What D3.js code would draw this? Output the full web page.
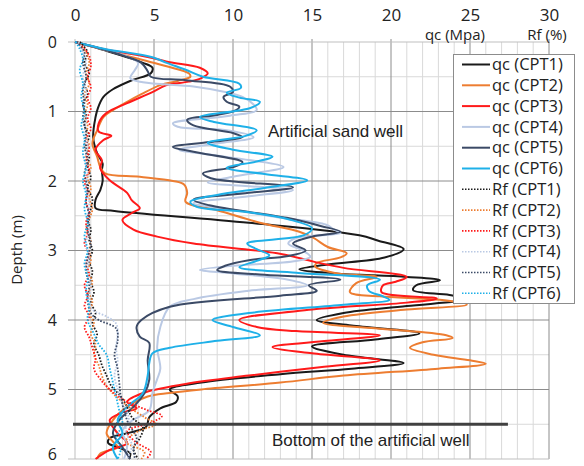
<!DOCTYPE html>
<html><head><meta charset="utf-8">
<script src="https://cdn.jsdelivr.net/npm/d3@7"></script>
<style>
html,body{margin:0;padding:0;background:#fff;}
svg text{font-family:"Open Sans",sans-serif;fill:#222;}
</style></head>
<body><svg id="c" width="584" height="466"></svg>
<script>
// ---- data: [depth (m), value] ----
const xTicks = [0,5,10,15,20,25,30];
const yTicks = [0,1,2,3,4,5,6];
const seriesNames = ["qc (CPT1)","qc (CPT2)","qc (CPT3)","qc (CPT4)","qc (CPT5)","qc (CPT6)","Rf (CPT1)","Rf (CPT2)","Rf (CPT3)","Rf (CPT4)","Rf (CPT5)","Rf (CPT6)"];
const seriesColors = ["#1a1a1a","#ed7d31","#ff1a1a","#bac9e4","#3b4a66","#1eb0e8","#1a1a1a","#ed7d31","#ff1a1a","#bac9e4","#3b4a66","#1eb0e8"];
const wellBottom = 5.5;
const wellLineEnd = 27.4;

const qc1 = [[0,0],[0.1,1.6],[0.2,3.0],[0.3,4.3],[0.37,4.9],[0.45,4.8],[0.55,3.6],[0.68,2.4],[0.79,1.8],[0.95,1.45],[1.08,1.3],[1.37,1.15],[1.6,1.4],[1.75,1.75],[1.84,1.7],[2.0,1.75],[2.13,1.6],[2.27,1.3],[2.39,1.3],[2.43,2.5],[2.6,11],[2.78,18],[2.86,19.2],[2.98,20.8],[3.1,19.6],[3.2,16],[3.27,14.2],[3.33,16.5],[3.38,21],[3.43,23.1],[3.5,21.6],[3.57,21.4],[3.64,23.7],[3.7,24.8],[3.8,21],[3.9,17],[4.0,15.3],[4.08,17.5],[4.19,21.8],[4.28,19],[4.38,15],[4.5,17],[4.62,20.8],[4.7,17.5],[4.78,13],[4.9,8],[5.0,6.0],[5.1,6.5],[5.18,6.4],[5.27,5.4],[5.4,4.7],[5.54,4.5],[5.63,3.3],[5.7,2.2],[5.77,2.1],[5.83,2.7],[5.92,3.5],[6.0,3.4]];
const qc2 = [[0,0],[0.1,1.7],[0.2,3.3],[0.26,4.3],[0.35,5.8],[0.45,7.2],[0.5,7.3],[0.56,6.5],[0.62,5.4],[0.75,4.2],[0.86,3.3],[0.98,2.4],[1.08,1.8],[1.27,1.4],[1.46,1.1],[1.65,1.4],[1.8,1.6],[1.89,1.9],[1.94,4.1],[2.0,6.2],[2.05,6.9],[2.17,7.1],[2.3,7.0],[2.42,9.0],[2.6,11.7],[2.73,14.2],[2.82,15.1],[2.95,16.0],[3.04,17.2],[3.1,16.8],[3.18,15.3],[3.23,15.2],[3.33,16.6],[3.38,19.1],[3.47,17.8],[3.6,17.4],[3.66,19.3],[3.71,23.1],[3.78,24.8],[3.85,21],[3.95,17],[4.04,15.7],[4.12,19],[4.22,23.5],[4.26,23.9],[4.32,22],[4.4,21.2],[4.5,22.7],[4.58,25],[4.63,26],[4.7,23],[4.8,17],[4.9,13],[5.0,8],[5.05,6],[5.1,4.6],[5.25,3.3],[5.44,2.4],[5.63,2.0],[5.75,2.4],[5.83,2.7],[5.92,1.6],[6.0,1.4]];
const qc3 = [[0,0],[0.1,1.8],[0.23,4.9],[0.29,6.0],[0.37,7.9],[0.45,8.4],[0.52,8.0],[0.57,7.2],[0.62,5.8],[0.72,4.9],[0.88,3.3],[1.02,2.0],[1.17,1.5],[1.29,1.5],[1.35,2.3],[1.41,1.8],[1.55,1.3],[1.7,1.7],[1.82,1.6],[1.99,2.2],[2.17,3.3],[2.28,3.6],[2.39,4.1],[2.46,3.6],[2.56,3.0],[2.7,3.7],[2.8,5.2],[2.9,7.5],[3.04,12.8],[3.16,15.1],[3.25,17],[3.38,21.0],[3.45,20.3],[3.5,19.5],[3.6,19.4],[3.69,22.9],[3.75,21],[3.85,15],[4.0,10.4],[4.1,11.5],[4.16,14],[4.22,19.3],[4.3,16],[4.39,12.5],[4.48,15],[4.58,19.3],[4.68,15.5],[4.8,11],[4.92,7],[5.05,4.3],[5.18,3.3],[5.27,3.9],[5.33,3.0],[5.44,2.2],[5.63,2.7],[5.77,3.3],[5.87,2.2],[6.0,1.3]];
const qc4 = [[0,0],[0.1,1.7],[0.2,3.2],[0.3,4.0],[0.4,3.8],[0.52,3.5],[0.58,4.3],[0.64,7.5],[0.72,9.5],[0.79,10.6],[0.9,11.3],[0.98,11.5],[1.06,9.8],[1.17,6.2],[1.22,6.5],[1.27,9.6],[1.37,11.3],[1.46,9],[1.55,6.6],[1.62,8.5],[1.8,13.2],[1.9,11],[1.94,10],[2.02,8.4],[2.13,13.8],[2.22,11],[2.32,7.5],[2.4,9.5],[2.52,12.8],[2.63,15.9],[2.7,16.4],[2.75,16.8],[2.82,14],[2.9,13.5],[3.0,14.4],[3.09,14.9],[3.15,14.0],[3.22,10],[3.28,7.9],[3.33,10],[3.42,13.5],[3.5,14.7],[3.58,11],[3.7,7.5],[3.81,6.0],[4.1,5.4],[4.39,5.2],[4.7,5.4],[4.85,5.2],[5.05,4.9],[5.3,4.7],[5.45,3.6],[5.6,3.0],[5.8,3.3],[6.0,3.1]];
const qc5 = [[0,0],[0.1,1.7],[0.2,3.1],[0.3,4.2],[0.42,4.6],[0.5,4.8],[0.55,7.0],[0.64,9.8],[0.72,10.0],[0.79,9.4],[0.86,9.6],[0.93,10.4],[0.98,10.2],[1.05,9],[1.12,7.1],[1.2,7.5],[1.31,10],[1.37,10.6],[1.44,8.5],[1.51,6.2],[1.58,7.5],[1.73,10.6],[1.8,10],[1.89,8.1],[1.96,8.6],[2.09,13.8],[2.17,11],[2.27,7.5],[2.35,8.5],[2.53,13.4],[2.65,15.6],[2.73,16.8],[2.8,15],[2.9,13.8],[3.0,14.6],[3.08,13.5],[3.14,11],[3.22,9.5],[3.28,9.0],[3.35,12],[3.42,16.8],[3.5,14.8],[3.58,15.3],[3.65,13],[3.81,6.0],[4.0,4.2],[4.1,3.9],[4.24,4.1],[4.33,4.7],[4.58,4.6],[4.86,4.7],[5.05,4.4],[5.25,3.7],[5.44,2.8],[5.63,2.4],[5.83,3.0],[6.0,3.5]];
const qc6 = [[0,0],[0.1,1.9],[0.22,4.9],[0.3,5.8],[0.4,7.0],[0.5,8.1],[0.6,10.4],[0.66,10.5],[0.73,9.6],[0.8,10.4],[0.86,11.7],[0.95,11.1],[1.08,7.9],[1.15,8.8],[1.27,11.5],[1.35,10.8],[1.45,8.4],[1.55,10],[1.65,12.5],[1.72,11.5],[1.81,9.6],[1.9,12],[1.99,14.7],[2.1,12],[2.2,9],[2.3,7.3],[2.37,7.7],[2.45,11],[2.55,13.5],[2.68,15],[2.78,14.5],[2.9,10.9],[2.98,11.5],[3.07,12.3],[3.15,11.5],[3.24,10.4],[3.32,14],[3.42,19.3],[3.5,18.5],[3.58,18.6],[3.66,19.5],[3.71,19.9],[3.78,17],[3.9,11],[4.0,8.7],[4.1,10],[4.22,11.7],[4.3,9],[4.4,6],[4.48,4.9],[4.62,4.7],[4.8,4.6],[5.05,4.3],[5.25,3.3],[5.44,2.7],[5.63,3.0],[5.83,2.4],[6.0,2.7]];

const rf1 = [[0,0.3],[0.15,0.8],[0.3,0.6],[0.45,0.9],[0.6,0.6],[0.75,0.8],[0.9,0.5],[1.05,0.7],[1.2,0.6],[1.35,0.9],[1.5,0.7],[1.65,0.9],[1.8,0.8],[1.95,1.0],[2.1,0.8],[2.25,1.1],[2.4,1.0],[2.55,0.8],[2.7,1.0],[2.85,0.9],[3.0,1.1],[3.15,0.9],[3.3,1.1],[3.45,1.0],[3.6,1.2],[3.75,1.0],[3.9,1.3],[4.05,1.1],[4.2,1.4],[4.35,1.2],[4.5,1.5],[4.65,1.7],[4.8,2.0],[4.95,2.3],[5.1,2.9],[5.25,3.3],[5.4,3.6],[5.55,4.3],[5.7,4.1],[5.85,3.7],[6.0,4.0]];
const rf2 = [[0,0.2],[0.15,0.7],[0.3,0.9],[0.45,0.7],[0.6,0.9],[0.75,0.6],[0.9,0.8],[1.05,0.6],[1.2,0.8],[1.35,0.7],[1.5,0.9],[1.65,0.7],[1.8,1.0],[1.95,0.8],[2.1,1.0],[2.25,0.9],[2.4,1.1],[2.55,0.9],[2.7,0.7],[2.85,1.0],[3.0,0.9],[3.15,1.0],[3.3,0.8],[3.45,1.1],[3.6,0.9],[3.75,1.1],[3.9,0.9],[4.05,1.2],[4.2,1.0],[4.35,1.3],[4.5,1.2],[4.65,1.5],[4.8,1.7],[4.95,2.0],[5.1,2.6],[5.25,3.4],[5.4,4.4],[5.5,5.1],[5.6,4.0],[5.75,3.2],[5.9,4.4],[6.0,4.2]];
const rf3 = [[0,0.1],[0.1,0.6],[0.2,0.9],[0.35,1.0],[0.5,0.8],[0.65,1.0],[0.8,0.8],[0.95,1.0],[1.1,0.8],[1.25,1.0],[1.4,0.7],[1.55,0.9],[1.7,0.7],[1.85,0.9],[2.0,0.6],[2.15,0.8],[2.3,0.7],[2.45,0.9],[2.6,0.7],[2.75,0.8],[2.9,0.6],[3.05,0.9],[3.2,0.7],[3.35,0.9],[3.5,0.6],[3.65,0.8],[3.8,0.6],[3.95,0.9],[4.1,0.6],[4.25,0.9],[4.4,1.1],[4.55,1.3],[4.7,1.2],[4.85,1.6],[5.0,2.2],[5.15,3.1],[5.3,4.6],[5.38,5.5],[5.48,4.8],[5.6,3.3],[5.75,3.8],[5.9,4.8],[6.0,4.5]];
const rf4 = [[0,0.2],[0.15,0.5],[0.3,0.7],[0.5,0.5],[0.7,0.7],[0.9,0.5],[1.1,0.7],[1.3,0.6],[1.5,0.8],[1.7,0.6],[1.9,0.8],[2.1,0.7],[2.3,0.9],[2.5,0.8],[2.7,0.9],[2.9,0.7],[3.1,0.9],[3.3,0.8],[3.5,1.0],[3.7,0.9],[3.85,1.1],[3.95,2.0],[4.05,2.6],[4.2,2.7],[4.4,2.6],[4.6,2.7],[4.8,2.5],[5.0,2.7],[5.2,3.0],[5.4,3.4],[5.6,3.2],[5.8,3.6],[6.0,3.3]];
const rf5 = [[0,0.1],[0.15,0.6],[0.3,0.5],[0.5,0.7],[0.7,0.5],[0.9,0.6],[1.1,0.5],[1.3,0.7],[1.5,0.6],[1.7,0.8],[1.9,0.6],[2.1,0.8],[2.3,0.7],[2.5,0.9],[2.7,0.8],[2.9,1.0],[3.1,0.8],[3.3,0.7],[3.5,0.9],[3.7,0.8],[3.9,1.0],[4.0,1.5],[4.12,2.6],[4.3,2.7],[4.5,2.5],[4.7,2.7],[4.9,2.8],[5.1,2.9],[5.3,3.1],[5.5,3.4],[5.7,3.9],[5.85,3.7],[6.0,3.8]];
const rf6 = [[0,0.05],[0.1,0.3],[0.25,0.5],[0.4,0.3],[0.6,0.5],[0.8,0.4],[1.0,0.6],[1.2,0.4],[1.4,0.6],[1.6,0.5],[1.8,0.7],[2.0,0.5],[2.2,0.7],[2.4,0.6],[2.6,0.8],[2.8,0.6],[3.0,0.8],[3.2,0.6],[3.4,0.8],[3.6,0.7],[3.8,0.9],[4.0,0.8],[4.2,1.2],[4.35,1.5],[4.5,2.0],[4.7,2.2],[4.9,2.4],[5.1,2.6],[5.3,2.8],[5.5,3.0],[5.7,2.6],[5.85,2.9],[6.0,2.7]];

const allSeries = [qc1,qc2,qc3,qc4,qc5,qc6,rf1,rf2,rf3,rf4,rf5,rf6];

// ---- drawing ----
const svg = d3.select("#c");
const L = 75, R = 549, T = 42, B = 459;
const x = d3.scaleLinear().domain([0,30]).range([L,R]);
const y = d3.scaleLinear().domain([0,6]).range([T,B]);

const grid = svg.append("g");
grid.selectAll("line.vm").data(d3.range(0,31).filter(v=>v%5!==0)).join("line")
  .attr("x1",d=>x(d)).attr("x2",d=>x(d)).attr("y1",T).attr("y2",B)
  .attr("stroke","#d9d9d9").attr("stroke-width",1);
grid.selectAll("line.hm").data(d3.range(0.5,6,1)).join("line")
  .attr("x1",L).attr("x2",R).attr("y1",d=>y(d)).attr("y2",d=>y(d))
  .attr("stroke","#d9d9d9").attr("stroke-width",1);
grid.selectAll("line.vM").data(xTicks).join("line")
  .attr("x1",d=>x(d)).attr("x2",d=>x(d)).attr("y1",T-3).attr("y2",B)
  .attr("stroke",d=>d===0?"#bfbfbf":"#8c8c8c").attr("stroke-width",1);
grid.selectAll("line.hM").data(yTicks).join("line")
  .attr("x1",L-7).attr("x2",R).attr("y1",d=>y(d)).attr("y2",d=>y(d))
  .attr("stroke",d=>d===0||d===6?"#bfbfbf":"#8c8c8c").attr("stroke-width",1);

const ax = svg.append("g").attr("transform",`translate(0,21)`)
  .call(d3.axisTop(x).tickValues(xTicks).tickFormat(d3.format("d")).tickSize(0).tickPadding(0));
ax.select(".domain").remove();
ax.selectAll("text").attr("dy","0").style("font-family","'Open Sans',sans-serif").style("font-size","17px").attr("fill","#222");
const ay = svg.append("g").attr("transform",`translate(${L-18},0)`)
  .call(d3.axisLeft(y).tickValues(yTicks).tickFormat(d3.format("d")).tickSize(0).tickPadding(0));
ay.select(".domain").remove();
ay.selectAll("text").style("font-family","'Open Sans',sans-serif").style("font-size","16px").attr("fill","#222");
ay.selectAll(".tick").filter(d=>d===6).select("text").attr("dy","0.02em");

svg.append("text").attr("transform","translate(22,250) rotate(-90)").attr("text-anchor","middle")
  .style("font-size","15px").text("Depth (m)");
svg.append("text").attr("x",455).attr("y",40).attr("text-anchor","middle").style("font-size","15px").text("qc (Mpa)");
svg.append("text").attr("x",547).attr("y",40).attr("text-anchor","middle").style("font-size","15px").text("Rf (%)");

const line = d3.line().x(d=>x(d[1])).y(d=>y(d[0])).curve(d3.curveCatmullRom.alpha(0.5));
const plot = svg.append("g");
allSeries.forEach((s,i)=>{
  plot.append("path").attr("d",line(s)).attr("fill","none")
    .attr("stroke",seriesColors[i])
    .attr("stroke-width", i<6?2:1.8)
    .attr("stroke-dasharray", i<6?null:"1.6,1.6");
});

svg.append("line").attr("x1",L-2).attr("x2",x(wellLineEnd)).attr("y1",y(wellBottom)).attr("y2",y(wellBottom))
  .attr("stroke","#404040").attr("stroke-width",3);

svg.append("text").attr("x",268).attr("y",137).style("font-family","'Liberation Sans',Arial,sans-serif").style("font-size","17px").text("Artificial sand well");
svg.append("text").attr("x",272).attr("y",446).style("font-family","'Liberation Sans',Arial,sans-serif").style("font-size","17px").text("Bottom of the artificial well");

const lg = svg.append("g");
lg.append("rect").attr("x",453.5).attr("y",54.5).attr("width",121).attr("height",249)
  .attr("fill","#fff").attr("stroke","#8c8c8c").attr("stroke-width",1);
seriesNames.forEach((n,i)=>{
  const yy = 64.5 + i*20.8;
  lg.append("line").attr("x1",462).attr("x2",490).attr("y1",yy).attr("y2",yy)
    .attr("stroke",seriesColors[i]).attr("stroke-width",i<6?2:1.6)
    .attr("stroke-dasharray", i<6?null:"1.5,1.5");
  lg.append("text").attr("x",492).attr("y",yy).attr("dy","0.35em").style("font-size","16.5px").text(n);
});
</script></body></html>
